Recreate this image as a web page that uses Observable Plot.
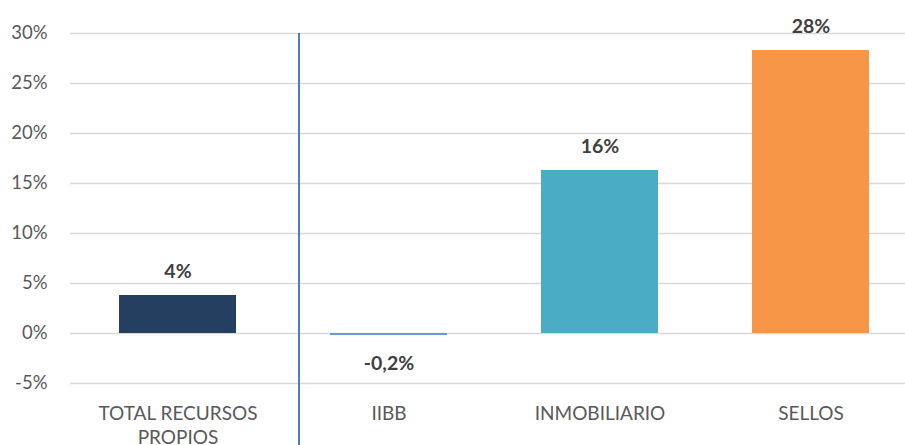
<!DOCTYPE html>
<html><head><meta charset="utf-8">
<script src="https://cdn.jsdelivr.net/npm/d3@7"></script>
<script src="https://cdn.jsdelivr.net/npm/@observablehq/plot@0.6"></script>
<style>body{margin:0;background:#fff;} svg{overflow:hidden}</style>
</head><body><div id="chart"></div>
<script>
const categories = ["TOTAL RECURSOS PROPIOS", "IIBB", "INMOBILIARIO", "SELLOS"];
const tickLabels = ["TOTAL RECURSOS\nPROPIOS", "IIBB", "INMOBILIARIO", "SELLOS"];
const values = [3.8, -0.2, 16.3, 28.3];
const valueLabels = ["4%", "-0,2%", "16%", "28%"];
const colors = ["#243f60", "#6a9bd3", "#4bacc6", "#f79646"];
const yTicks = [-5, 0, 5, 10, 15, 20, 25, 30];

const data = categories.map((c, i) => ({cat: c, v: values[i], label: valueLabels[i], color: colors[i]}));

const font = "Lato, 'Open Sans', sans-serif";
const chart = Plot.plot({
  width: 905, height: 445,
  marginTop: 33, marginBottom: 62, marginLeft: 70, marginRight: 0,
  style: {fontFamily: font, background: "#fff"},
  x: {domain: categories, range: [70, 917], paddingInner: 0.447, paddingOuter: 0.2235, label: null},
  y: {domain: [-5, 30], label: null},
  marks: [
    Plot.ruleY(yTicks, {stroke: "#d9d9d9", strokeWidth: 1.5}),
    Plot.barY(data, {x: "cat", y: "v", fill: "color"}),
    Plot.text(data, {x: "cat", y: "v", text: "label", lineAnchor: "bottom",
      fontWeight: "bold", fontSize: 19.5, fill: "#404040",
      filter: d => d.v >= 0, dy: -18}),
    Plot.text(data, {x: "cat", y: "v", text: "label", lineAnchor: "top",
      fontWeight: "bold", fontSize: 19.5, fill: "#404040",
      filter: d => d.v < 0, dy: 21}),
    Plot.ruleX(["IIBB"], {x: d => d, dx: -90, y1: 30, y2: -12, stroke: "#4a7fc1", strokeWidth: 2, clip: false}),
    Plot.axisY(yTicks, {tickSize: 0, tickPadding: 23, tickFormat: d => d + "%", fontSize: 18.5, fill: "#595959", label: null}),
    Plot.axisX({tickSize: 0, tickPadding: 20, tickFormat: d => tickLabels[categories.indexOf(d)], fontSize: 19, fill: "#595959", lineHeight: 1.25, label: null})
  ]
});
document.getElementById("chart").append(chart);
</script></body></html>
